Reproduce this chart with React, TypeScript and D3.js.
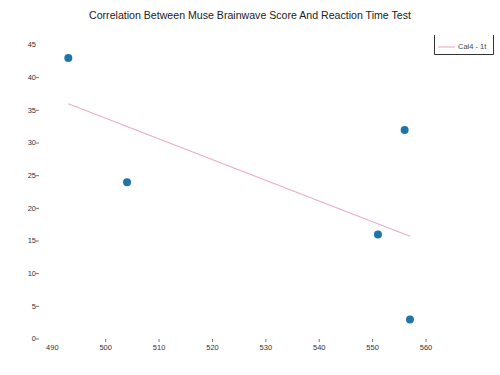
import React from 'react';
import * as d3 from 'd3';

// scores (x) and reaction times (y)
const scores = [493, 504, 551, 556, 557];
const reactionTimes = [43, 24, 16, 32, 3];
const xTicks = [490, 500, 510, 520, 530, 540, 550, 560];
const yTicks = [0, 5, 10, 15, 20, 25, 30, 35, 40, 45];
const title = 'Correlation Between Muse Brainwave Score And Reaction Time Test';
const legendLabel = 'Cal4 - 1t';

const width = 500;
const height = 375;

export default function App() {
  const xScale = d3.scaleLinear().domain([490, 560]).range([52.3, 426]);
  const yScale = d3.scaleLinear().domain([0, 45]).range([339, 45]);

  const points = scores.map((s, i) => ({ x: s, y: reactionTimes[i] }));

  /* least squares fit over the points */
  const mx = d3.mean(points, d => d.x) as number;
  const my = d3.mean(points, d => d.y) as number;
  const sxy = d3.sum(points, d => (d.x - mx) * (d.y - my));
  const sxx = d3.sum(points, d => (d.x - mx) * (d.x - mx));
  const slope = sxy / sxx;
  const [x0, x1] = d3.extent(scores) as [number, number];
  const fit = [x0, x1].map(x => ({ x, y: my + slope * (x - mx) }));

  const line = d3.line<{ x: number; y: number }>()
    .x(d => xScale(d.x))
    .y(d => yScale(d.y));

  const font = '"Liberation Sans", Arial, sans-serif';
  const axisX = 40;
  const axisY = 339;

  return (
    <svg width={width} height={height}
      style={{ position: 'absolute', left: 0, top: 0, background: '#fff' }}
      fontFamily={font}>
      <text x={250} y={18.5} textAnchor="middle" fontSize={10.6} fill="#222">{title}</text>

      {/* y axis */}
      <g>
        {yTicks.map(t => (
          <g key={t} transform={`translate(0, ${yScale(t)})`}>
            {t < 45 && <line x1={axisX - 4} x2={axisX - 1} stroke="#555" strokeWidth={0.8} />}
            <text x={axisX - 4} y={0} dy="0.32em" textAnchor="end" fontSize={7.5} fill="#333">{t}</text>
          </g>
        ))}
      </g>

      {/* x axis */}
      <g>
        {xTicks.map(t => (
          <g key={t} transform={`translate(${xScale(t)}, ${axisY})`}>
            {t > 490 && <line y1={0} y2={3} stroke="#555" strokeWidth={0.8} />}
            <text y={9} dy="0.32em" textAnchor="middle" fontSize={7.5} fill="#333">{t}</text>
          </g>
        ))}
      </g>

      {/* fit line */}
      <path d={line(fit) || ''} fill="none" stroke="#eaa9cb" strokeWidth={1.1} />

      {/* points */}
      {points.map((p, i) => (
        <circle key={i} cx={xScale(p.x)} cy={yScale(p.y)} r={4} fill="#1f74aa" />
      ))}

      {/* legend */}
      <g>
        <path d="M434.5,35 V54.5 H493.5 V35" fill="none" stroke="#333" strokeWidth={1} />
        <line x1={438} x2={455} y1={47} y2={47} stroke="#eaa9cb" strokeWidth={1.1} />
        <text x={458} y={47} dy="0.32em" fontSize={7.5} fill="#444">{legendLabel}</text>
      </g>
    </svg>
  );
}
